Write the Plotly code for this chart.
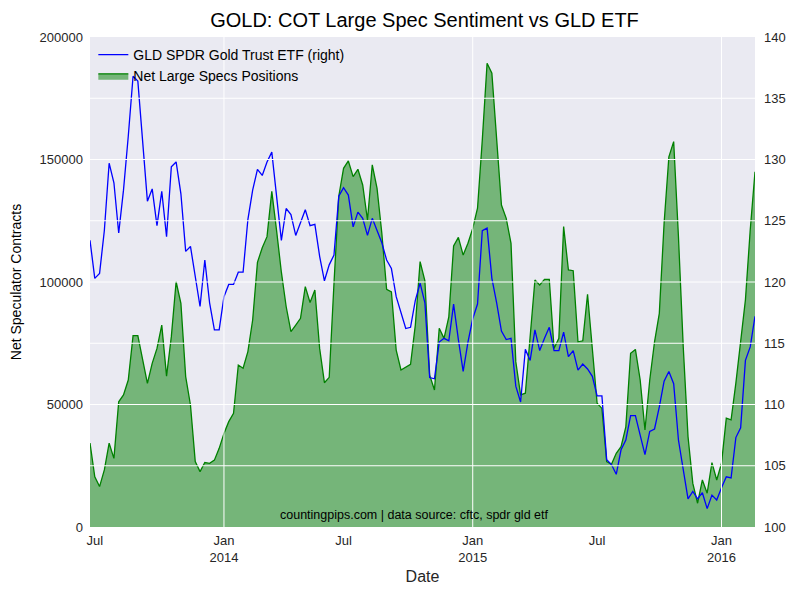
import pandas as pd
import plotly.graph_objects as go

# ---------------- data (weekly) ----------------
start_date = "2013-06-25"
n_weeks = 140

net_specs = [
    34300, 20500, 16500, 23300, 34200, 28000, 51100, 53900, 60000, 78100,
    78100, 68200, 58600, 66800, 72900, 82400, 61600, 77700, 100100, 91300,
    61400, 49800, 26700, 22600, 26300, 26000, 27300, 32100, 38200, 43000,
    46400, 66100, 64800, 71600, 84500, 108000, 114000, 118500, 137000, 121000,
    104000, 90000, 79700, 82400, 85200, 98100, 91600, 96700, 72900, 58900,
    61100, 99500, 135000, 146400, 149400, 143000, 146000, 139600, 125300, 147800,
    138200, 119900, 97000, 96000, 72200, 64100, 65200, 66400, 82400, 108300,
    100500, 62000, 55900, 81100, 77000, 85800, 114700, 118200, 111000, 115800,
    121900, 130100, 158000, 189300, 185200, 158000, 131400, 126000, 115800, 67500,
    53900, 54600, 76300, 100800, 98800, 101100, 101100, 72900, 77000, 122600,
    104900, 104600, 75600, 76000, 95000, 70900, 50500, 48400, 26700, 25600,
    30100, 32800, 40900, 70900, 72500, 60000, 39600, 60000, 75600, 87200,
    124000, 151100, 157300, 118500, 73600, 36900, 17800, 9700, 19200, 13800,
    26300, 19200, 26000, 44400, 43700, 58700, 75000, 92700, 121200, 145000,
]

gld_price = [
    123.4, 120.3, 120.7, 124.2, 129.7, 128.1, 124.0, 127.5, 131.9, 136.8,
    136.4, 131.6, 126.6, 127.6, 124.6, 127.4, 123.7, 129.4, 129.8, 127.2,
    122.5, 122.9, 120.5, 118.0, 121.8, 118.3, 116.1, 116.1, 118.8, 119.8,
    119.8, 120.8, 120.8, 125.1, 127.5, 129.2, 128.7, 129.8, 130.6, 127.2,
    123.4, 126.0, 125.5, 123.8, 124.9, 125.9, 124.6, 124.7, 122.1, 120.1,
    121.4, 122.2, 127.0, 127.7, 127.1, 124.5, 125.7, 125.2, 123.8, 125.2,
    124.2, 123.2, 121.8, 121.1, 118.8, 117.6, 116.2, 116.3, 118.5, 119.9,
    118.3, 112.2, 112.1, 115.1, 115.4, 115.2, 118.2, 115.3, 112.7, 115.1,
    117.0, 118.2, 124.2, 124.4, 120.3, 118.3, 116.0, 115.3, 115.4, 111.5,
    110.2, 114.5, 113.6, 116.1, 114.4, 115.4, 116.3, 114.4, 114.4, 115.9,
    113.9, 114.4, 112.8, 113.3, 112.9, 112.3, 110.7, 110.7, 105.5, 105.1,
    104.3, 106.3, 107.1, 109.1, 109.1, 107.5, 105.9, 107.8, 108.0, 109.8,
    111.9, 112.7, 111.7, 107.1, 104.7, 102.3, 102.9, 102.3, 102.8, 101.5,
    102.6, 102.2, 103.2, 104.1, 104.0, 107.3, 108.1, 113.6, 114.7, 117.2,
]

x_tick_dates = ["2013-07-02", "2014-01-07", "2014-07-01", "2015-01-06", "2015-07-07", "2016-01-05"]
x_tick_text = ["Jul", "Jan<br>2014", "Jul", "Jan<br>2015", "Jul", "Jan<br>2016"]
x_grid_dates = ["2014-01-07", "2015-01-06", "2016-01-05"]
left_ticks = [0, 50000, 100000, 150000, 200000]
right_ticks = [100, 105, 110, 115, 120, 125, 130, 135, 140]

dates = pd.date_range(start_date, periods=n_weeks, freq="7D")

# ---------------- figure ----------------
# the page body adds an 8px offset; margins below are in figure pixels
W, H = 800, 600
ML, MR, MT, MB = 82, 53, 29, 81

fig = go.Figure()

fig.add_trace(go.Scatter(
    x=dates, y=net_specs, name="Net Large Specs Positions",
    mode="lines", line=dict(color="#008000", width=1.3),
    fill="tozeroy", fillcolor="rgba(0,128,0,0.5)",
    yaxis="y", legendrank=2,
))
fig.add_trace(go.Scatter(
    x=dates, y=gld_price, name="GLD SPDR Gold Trust ETF (right)",
    mode="lines", line=dict(color="#0000ff", width=1.3),
    yaxis="y2", legendrank=1,
))

TXT = "#262626"
FONT = "Liberation Sans, Arial, sans-serif"

shapes = []
for d in x_grid_dates:
    shapes.append(dict(type="line", xref="x", yref="paper", x0=d, x1=d, y0=0, y1=1,
                       line=dict(color="white", width=1), layer="above"))
for v in right_ticks[1:-1]:
    shapes.append(dict(type="line", xref="paper", yref="y2", x0=0, x1=1, y0=v, y1=v,
                       line=dict(color="white", width=1), layer="above"))

plot_h = H - MT - MB

fig.update_layout(
    width=W, height=H,
    margin=dict(l=ML, r=MR, t=MT, b=MB, autoexpand=False),
    paper_bgcolor="white", plot_bgcolor="#EAEAF2",
    font=dict(family=FONT, color=TXT, size=13),
    title=dict(text="GOLD: COT Large Spec Sentiment vs GLD ETF",
               x=(ML + (W - ML - MR) / 2 + 2) / W, xref="container", xanchor="center",
               y=1 - 12 / H, yref="container", yanchor="middle", automargin=False,
               font=dict(size=20, color="black", family=FONT)),
    showlegend=True,
    legend=dict(x=0.005, y=1.0 - 2 / plot_h, xanchor="left", yanchor="top",
                bgcolor="rgba(0,0,0,0)", font=dict(size=14, color="black"),
                tracegroupgap=0),
    xaxis=dict(
        range=[dates[0], dates[-1]], automargin=False,
        tickvals=x_tick_dates, ticktext=x_tick_text,
        showgrid=False, zeroline=False, showline=False, ticks="",
        ticklabelstandoff=4,
        tickfont=dict(size=13, color=TXT),
        title=dict(text="Date", font=dict(size=16, color=TXT), standoff=6),
    ),
    yaxis=dict(
        range=[0, 200000], tickvals=left_ticks, tickformat="d", automargin=False,
        showgrid=False, zeroline=False, showline=False, ticks="",
        ticklabelstandoff=6,
        tickfont=dict(size=13, color=TXT),
        title=dict(text="Net Speculator Contracts", font=dict(size=14, color="black"), standoff=14),
    ),
    yaxis2=dict(
        range=[100, 140], tickvals=right_ticks, overlaying="y", side="right",
        automargin=False,
        showgrid=False, zeroline=False, showline=False, ticks="",
        ticklabelstandoff=8,
        tickfont=dict(size=13, color=TXT),
    ),
    shapes=shapes,
    annotations=[dict(
        text="countingpips.com | data source: cftc, spdr gld etf",
        xref="paper", yref="paper", x=0.487, y=12 / plot_h, xanchor="center", yanchor="middle",
        showarrow=False, font=dict(size=12.5, color="black"),
    )],
)

fig.write_html("out.html")
